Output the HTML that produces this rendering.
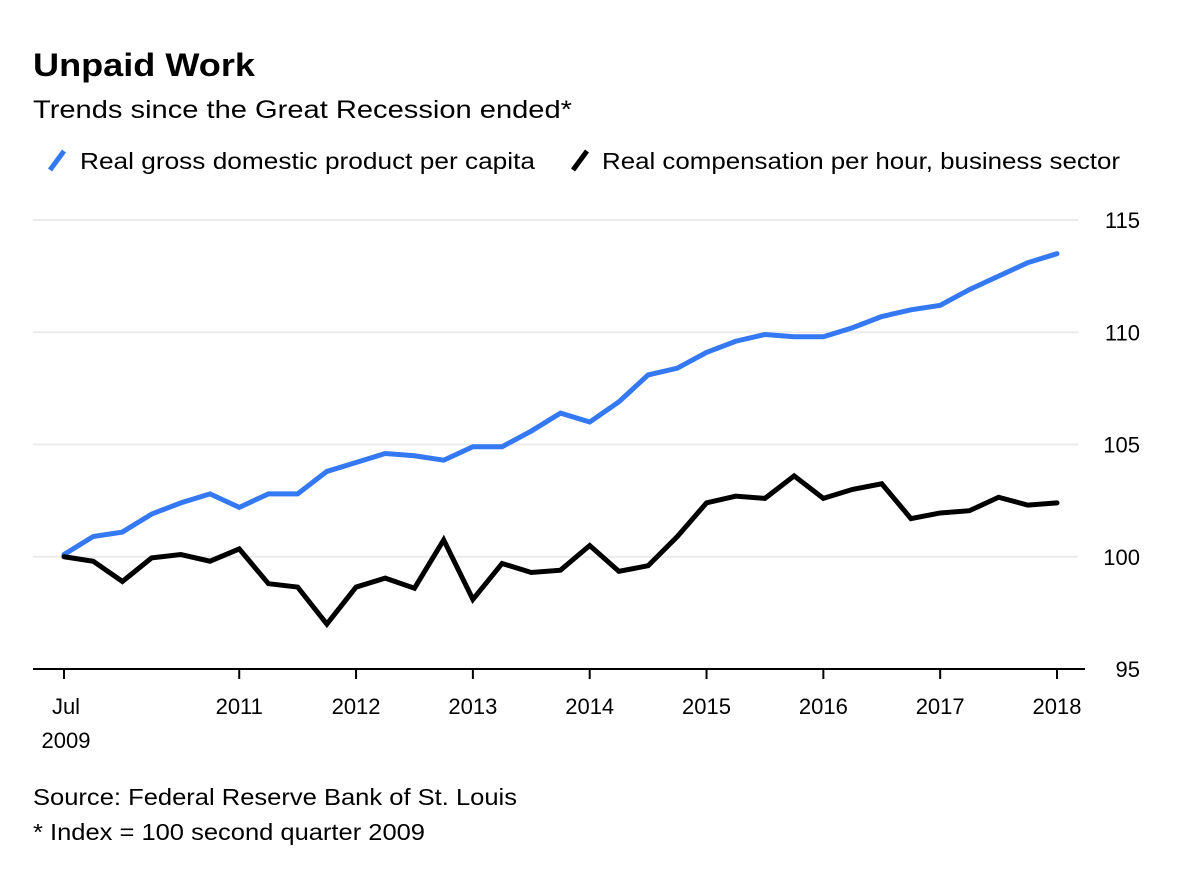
<!DOCTYPE html>
<html><head><meta charset="utf-8"><style>
body{margin:0;background:#fff;font-family:"Liberation Sans",sans-serif;}
svg text{font-family:"Liberation Sans",sans-serif;fill:#000;}
</style></head><body>
<svg width="1200" height="865">
<text x="33" y="76" font-size="32" font-weight="bold" textLength="222" lengthAdjust="spacingAndGlyphs">Unpaid Work</text>
<text x="33" y="118" font-size="25" textLength="539" lengthAdjust="spacingAndGlyphs">Trends since the Great Recession ended*</text>
<g>
<line x1="50" y1="170" x2="64" y2="151" stroke="#3479f3" stroke-width="5"/>
<text x="80" y="169" font-size="23" textLength="455" lengthAdjust="spacingAndGlyphs">Real gross domestic product per capita</text>
<line x1="573" y1="170" x2="587" y2="151" stroke="#000" stroke-width="5"/>
<text x="602" y="169" font-size="23" textLength="518" lengthAdjust="spacingAndGlyphs">Real compensation per hour, business sector</text>
</g>
<g id="grid"></g><g id="series"></g><g id="axes"></g>
<text x="33" y="805" font-size="23" textLength="484" lengthAdjust="spacingAndGlyphs">Source: Federal Reserve Bank of St. Louis</text>
<text x="33" y="840" font-size="23" textLength="392" lengthAdjust="spacingAndGlyphs">* Index = 100 second quarter 2009</text>
</svg>
<script>
const yTicks=[95,100,105,110,115];
const xTickIdx=[0,6,10,14,18,22,26,30,34];
const xTickLabels=["Jul","2011","2012","2013","2014","2015","2016","2017","2018"];
const gdp=[100.1,100.9,101.1,101.9,102.4,102.8,102.2,102.8,102.8,103.8,104.2,104.6,104.5,104.3,104.9,104.9,105.6,106.4,106.0,106.9,108.1,108.4,109.1,109.6,109.9,109.8,109.8,110.2,110.7,111.0,111.2,111.9,112.5,113.1,113.5];
const comp=[100.0,99.8,98.9,99.95,100.1,99.8,100.35,98.8,98.65,97.0,98.65,99.05,98.6,100.75,98.1,99.7,99.3,99.4,100.5,99.35,99.6,100.9,102.4,102.7,102.6,103.6,102.6,103.0,103.25,101.7,101.95,102.05,102.65,102.3,102.4];
const NS="http://www.w3.org/2000/svg";
const x=i=>64+i*(1057-64)/34;
const y=v=>669-(v-95)*(669-220)/20;
function mk(t,a,p){const e=document.createElementNS(NS,t);for(const k in a)e.setAttribute(k,a[k]);p.appendChild(e);return e;}
const G=document.getElementById('grid'),S=document.getElementById('series'),A=document.getElementById('axes');
yTicks.forEach(v=>{
 if(v>95){const l=mk('line',{x1:33,x2:1078,y1:y(v),y2:y(v),stroke:'#ebebeb','stroke-width':2},G);
 
 }
 const t=mk('text',{x:1140,y:y(v)+8,'font-size':22,'text-anchor':'end'},A);t.textContent=v;
 
 
});
const ax=mk('line',{x1:33,x2:1085,y1:669,y2:669,stroke:'#000','stroke-width':2},A);


xTickIdx.forEach((ix,k)=>{
 const tk=mk('line',{x1:x(ix),x2:x(ix),y1:669,y2:679,stroke:'#000','stroke-width':2},A);
 
 
 const t=mk('text',{x:k==0?x(ix)+2:x(ix),y:714,'font-size':22,'text-anchor':'middle'},A);t.textContent=xTickLabels[k];
 
 
});
const t2=mk('text',{x:66,y:748,'font-size':22,'text-anchor':'middle'},A);t2.textContent="2009";


function line(d,c,n){const p=mk('polyline',{points:d.map((v,i)=>x(i)+','+y(v)).join(' '),fill:'none',stroke:c,'stroke-width':5,'stroke-linejoin':'miter','stroke-linecap':'round'},S);
 
 }
line(gdp,'#3479f3','gdp-line');
line(comp,'#000','compensation-line');
</script>
</body></html>
